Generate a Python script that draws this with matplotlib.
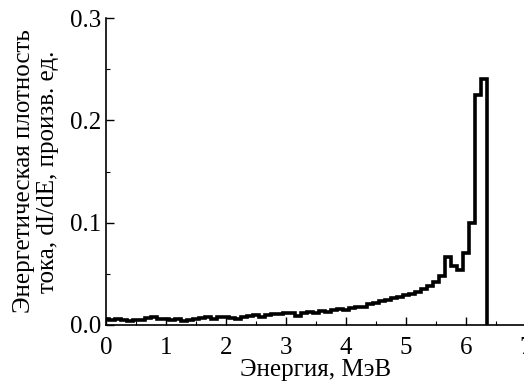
import numpy as np
import matplotlib
matplotlib.use('Agg')
import matplotlib.pyplot as plt
from matplotlib.ticker import MultipleLocator

# Energy bin centres (MeV) and spectrum values
energy = np.round(np.arange(0.0, 6.35, 0.1), 2)
dIdE = [0.006, 0.005, 0.006, 0.005, 0.004, 0.005, 0.005, 0.007, 0.008, 0.006,
        0.006, 0.005, 0.006, 0.004, 0.005, 0.006, 0.007, 0.008, 0.006, 0.008,
        0.008, 0.007, 0.006, 0.008, 0.009, 0.010, 0.008, 0.010, 0.011, 0.011,
        0.012, 0.012, 0.009, 0.012, 0.013, 0.012, 0.014, 0.013, 0.015, 0.016,
        0.015, 0.017, 0.018, 0.018, 0.020, 0.021, 0.023, 0.024, 0.026, 0.027,
        0.029, 0.030, 0.032, 0.035, 0.038, 0.042, 0.048, 0.066, 0.058, 0.054,
        0.070, 0.100, 0.225, 0.240]

x_ticks = [0, 1, 2, 3, 4, 5, 6, 7]
y_ticks = [0.0, 0.1, 0.2, 0.3]

plt.rcParams['font.family'] = ['Liberation Serif', 'DejaVu Serif']

fig = plt.figure(figsize=(5.24, 3.85), dpi=100, facecolor='white')
ax = fig.add_axes([0.202, 0.156, 0.8015, 0.797])

edges = np.append(energy - 0.05, energy[-1] + 0.05)
ax.stairs(dIdE, edges, baseline=0, color='black', linewidth=2.6)

ax.set_xlim(0, 7)
ax.set_ylim(0, 0.3)
ax.set_xticks(x_ticks)
ax.set_yticks(y_ticks)
ax.set_yticklabels([f'{v:.1f}' for v in y_ticks])
ax.xaxis.set_minor_locator(MultipleLocator(0.5))
ax.yaxis.set_minor_locator(MultipleLocator(0.05))

for s in ['top', 'right']:
    ax.spines[s].set_visible(False)
for s in ['left', 'bottom']:
    ax.spines[s].set_linewidth(1.2)

ax.tick_params(which='major', direction='in', length=6, width=1.0,
               labelsize=18, pad=3)
ax.tick_params(axis='x', which='major', pad=9)
ax.tick_params(which='minor', direction='in', length=3, width=0.8)

ax.set_xlabel('Энергия, МэВ', fontsize=18, labelpad=0)
ax.set_ylabel('Энергетическая плотность\nтока, dI/dE, произв. ед.',
              fontsize=18, labelpad=8, linespacing=1.15)

fig.savefig('out.png', dpi=100)
